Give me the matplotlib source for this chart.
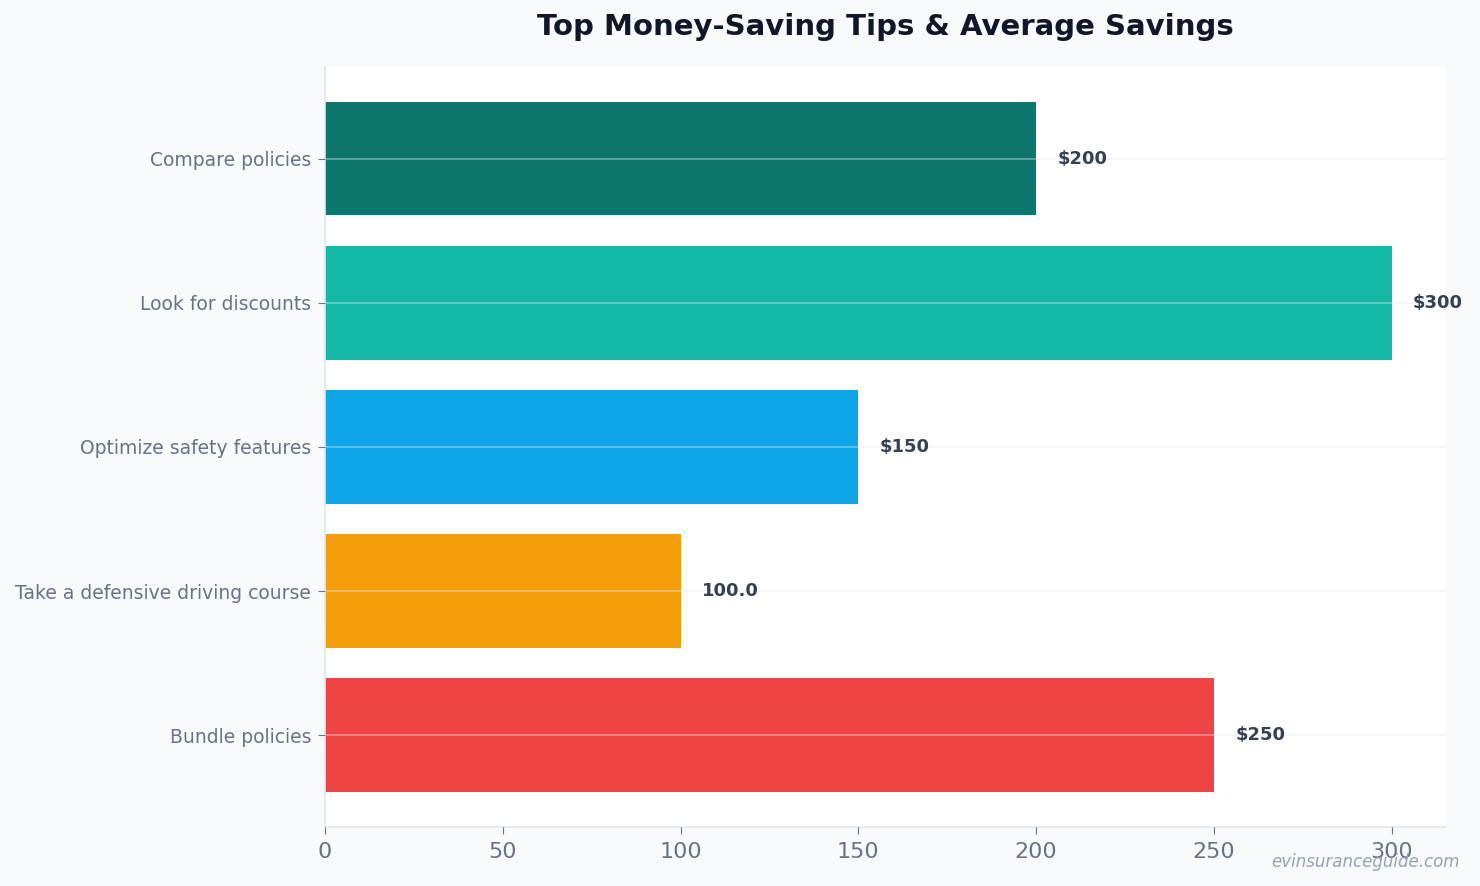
import matplotlib.pyplot as plt

# tips and their average savings in dollars
tips = ['Compare policies', 'Look for discounts', 'Optimize safety features',
        'Take a defensive driving course', 'Bundle policies']
savings = [200, 300, 150, 100, 250]
value_labels = ['$200', '$300', '$150', '100.0', '$250']
colors = ['#0f766e', '#14b8a6', '#0ea5e9', '#f59e0b', '#ef4444']

fig, ax = plt.subplots(figsize=(14.8, 8.86), dpi=100)
fig.patch.set_facecolor('#f8fafc')
ax.set_facecolor('white')

ax.barh(tips, savings, color=colors, height=0.79, zorder=2)
ax.invert_yaxis()
ax.set_xlim(0, max(savings) * 1.05)

for i, (v, lab) in enumerate(zip(savings, value_labels)):
    ax.text(v + max(savings) * 0.02, i, lab, va='center', ha='left',
            fontsize=13, fontweight='bold', color='#334155', zorder=4)

ax.grid(axis='y', color='#e2e8f0', alpha=0.45, linewidth=1.2, zorder=3)
ax.grid(axis='x', visible=False)
ax.set_axisbelow(False)

for s in ['top', 'right']:
    ax.spines[s].set_visible(False)
for s in ['left', 'bottom']:
    ax.spines[s].set_color('#e2e8f0')
    ax.spines[s].set_linewidth(1.2)

ax.tick_params(axis='y', colors='#64748b', labelsize=13.5, length=5, pad=5)
ax.tick_params(axis='x', colors='#64748b', labelsize=16, length=5, pad=6)
for t in ax.get_yticklabels() + ax.get_xticklabels():
    t.set_color('#64748b')

ax.set_title('Top Money-Saving Tips & Average Savings', fontsize=21,
             fontweight='bold', color='#0f172a', pad=23)

fig.text(0.986, 0.027, 'evinsuranceguide.com', ha='right', va='center',
         fontsize=12, style='italic', color='#94a3b8')

plt.subplots_adjust(left=0.2196, right=0.9764, top=0.9244, bottom=0.0666)
plt.savefig('out.png', facecolor=fig.get_facecolor())
